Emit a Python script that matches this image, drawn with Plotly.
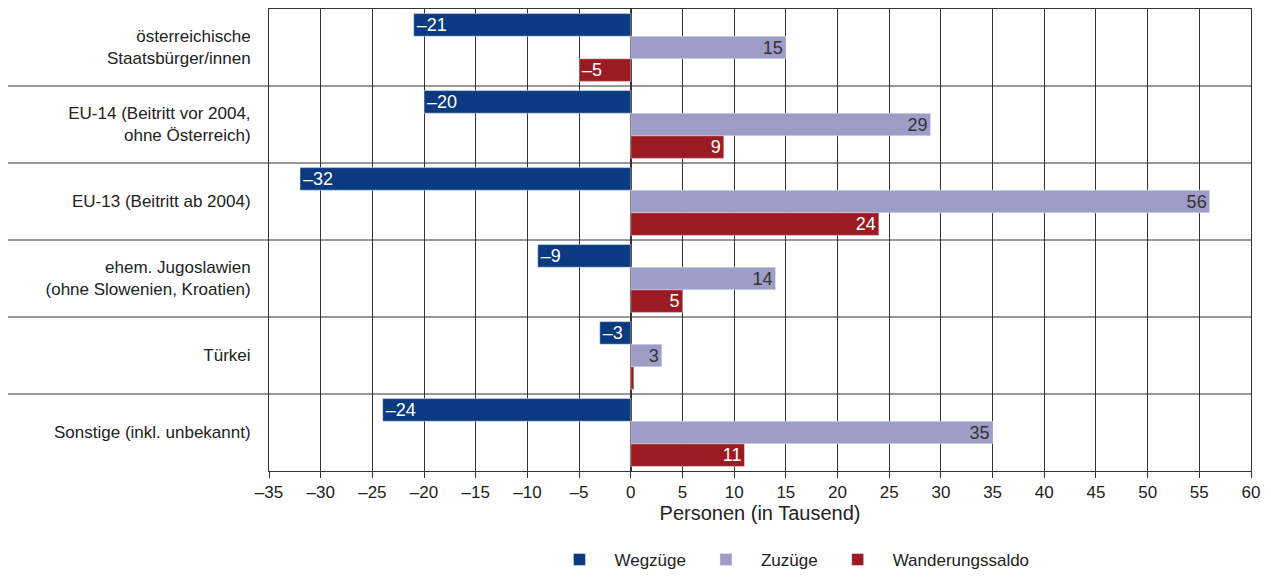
import plotly.graph_objects as go

categories = ["österreichische<br>Staatsbürger/innen", "EU-14 (Beitritt vor 2004,<br>ohne Österreich)",
              "EU-13 (Beitritt ab 2004)", "ehem. Jugoslawien<br>(ohne Slowenien, Kroatien)",
              "Türkei", "Sonstige (inkl. unbekannt)"]
wegzuege = [-21, -20, -32, -9, -3, -24]
zuzuege = [15, 29, 56, 14, 3, 35]
saldo = [-5, 9, 24, 5, 0.3, 11]
saldo_labels = ["–5", "9", "24", "5", "", "11"]
tickvals = list(range(-35, 61, 5))
ticktext = [("–" + str(-v)) if v < 0 else str(v) for v in tickvals]

def lab(vals):
    return [("–" + str(-v)) if v < 0 else str(v) for v in vals]

fig = go.Figure()
fig.add_bar(y=categories, x=wegzuege, orientation="h", name="Wegzüge", marker_color="#0b3a80",
            text=lab(wegzuege), textposition="inside", insidetextanchor="end",
            textfont=dict(color="white", size=18), constraintext="none")
fig.add_bar(y=categories, x=zuzuege, orientation="h", name="Zuzüge", marker_color="#9e9dc8",
            text=lab(zuzuege), textposition="inside", insidetextanchor="end",
            textfont=dict(color="#333333", size=18), constraintext="none")
fig.add_bar(y=categories, x=saldo, orientation="h", name="Wanderungssaldo", marker_color="#9b1b22",
            text=saldo_labels, textposition="inside", insidetextanchor="end",
            textfont=dict(color="white", size=18), constraintext="none")

shapes = []
for i in range(len(categories) - 1):
    shapes.append(dict(type="line", xref="paper", x0=-0.3, x1=1, yref="y", y0=i + 0.5, y1=i + 0.5,
                       line=dict(color="#333333", width=1), layer="below"))

fig.update_layout(
    width=1271, height=581, barmode="group", bargap=0.12, bargroupgap=0,
    plot_bgcolor="white", paper_bgcolor="white",
    font=dict(family="Liberation Sans, Arial, sans-serif", size=17, color="#222222"),
    margin=dict(l=261, r=28, t=1, b=118),
    shapes=shapes,
    xaxis=dict(range=[-35, 60], tickvals=tickvals, ticktext=ticktext, showgrid=True,
               gridcolor="#333333", gridwidth=1, zeroline=True, zerolinecolor="#333333",
               showline=True, linecolor="#333333", mirror=True, ticks="outside", ticklen=6,
               tickcolor="#333333", title=dict(text="Personen (in Tausend)", standoff=4)),
    yaxis=dict(autorange="reversed", showline=True, linecolor="#333333", mirror=True,
               ticks="", ticklabelstandoff=14),
    legend=dict(orientation="h", x=0.53, xanchor="center", yref="container", y=0.05, yanchor="middle",
                font=dict(size=17), itemwidth=60, tracegroupgap=0),
)
fig.update_traces(textangle=0)
fig.write_html("out.html")
